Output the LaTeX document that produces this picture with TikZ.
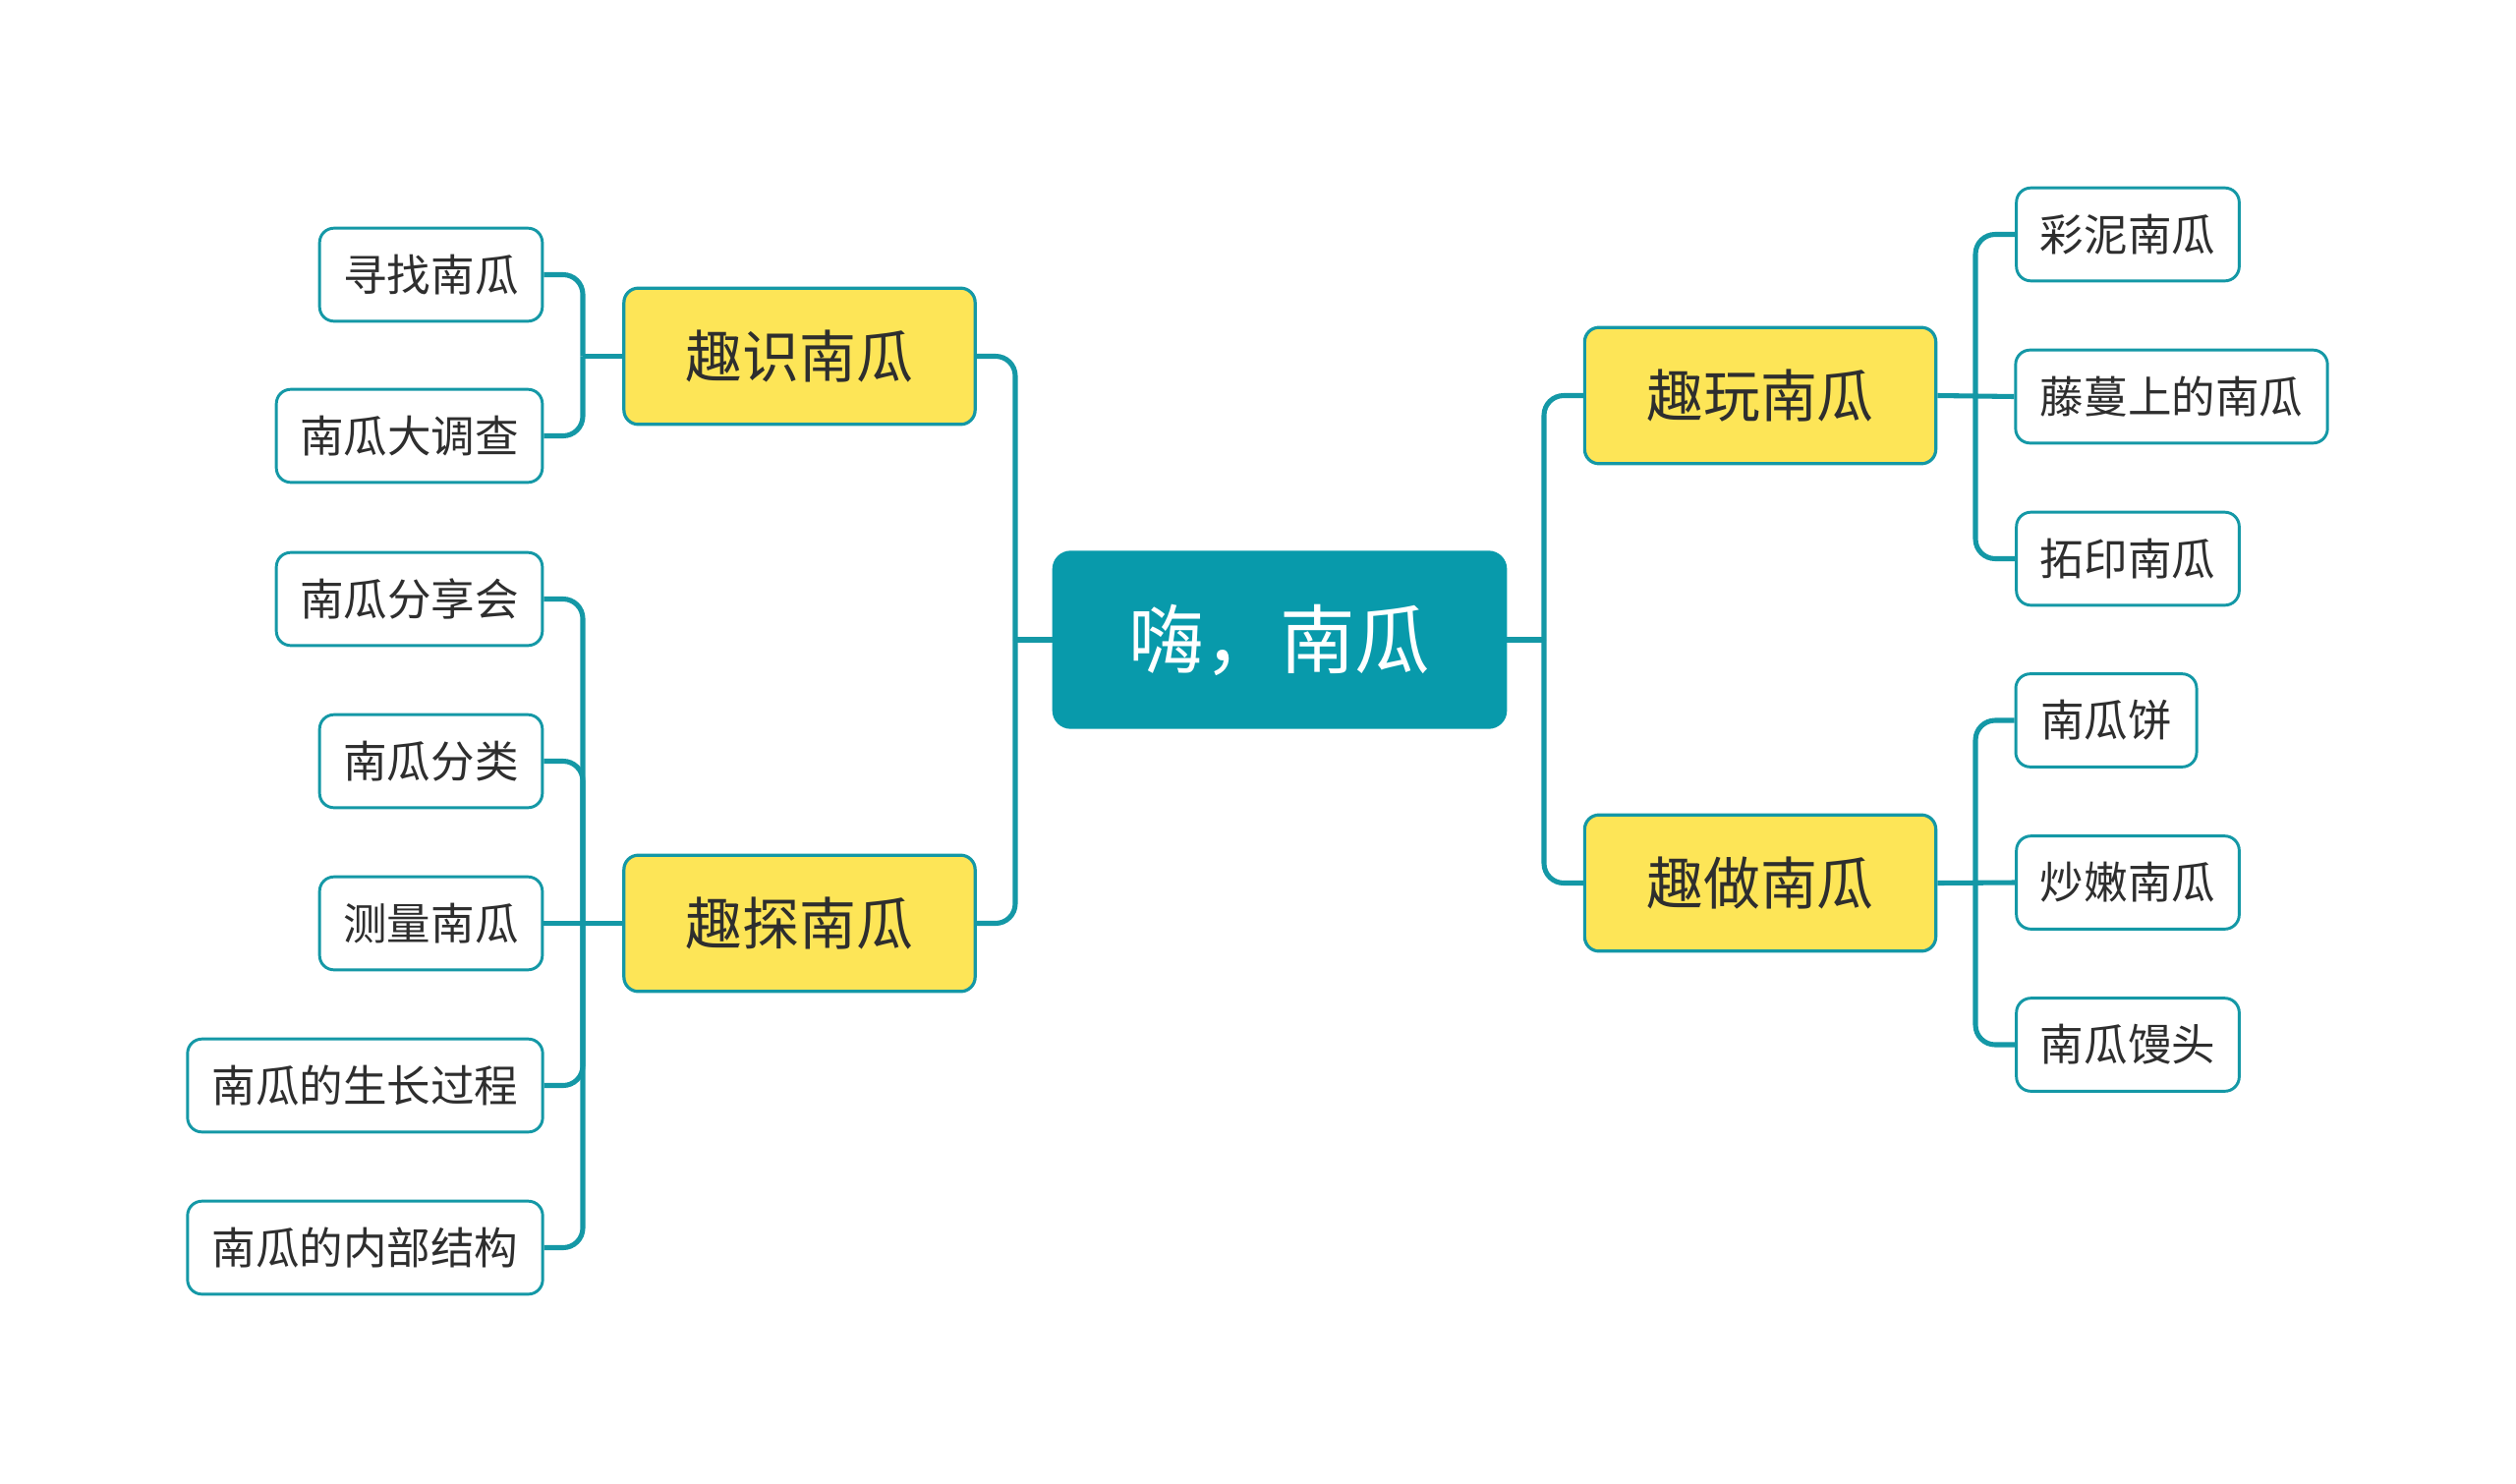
\documentclass[tikz,border=0pt]{standalone}
\usepackage{fontspec}
\newfontfamily\cjk{Noto Sans CJK SC}
\definecolor{teal1}{HTML}{1498A6}
\definecolor{centerfill}{HTML}{089AAB}
\definecolor{yel}{HTML}{FDE557}
\definecolor{txt}{HTML}{2E2E2E}
\begin{document}
\begin{tikzpicture}[x=0.375pt,y=-0.375pt,
  rootbox/.style={draw=centerfill,fill=centerfill,rounded corners=6.5pt,line width=1pt,
    minimum width=172.5pt,minimum height=67pt,font=\cjk\fontsize{28.7}{32}\selectfont,text=white,inner sep=0pt},
  midbox/.style={draw=teal1,fill=yel,rounded corners=5.5pt,line width=1.2pt,
    minimum width=134pt,minimum height=52pt,font=\cjk\fontsize{21.7}{25}\selectfont,text=txt,inner sep=0pt},
  leafbox/.style={draw=teal1,fill=white,rounded corners=5.5pt,line width=1.1pt,
    minimum height=35.5pt,font=\cjk\fontsize{16.7}{20}\selectfont,text=txt,inner sep=0pt},
  conn/.style={draw=teal1,line width=1.9pt,rounded corners=7.5pt},
  straight/.style={draw=teal1,line width=1.9pt}]
\useasboundingbox[fill=white] (0,0) rectangle (2560,1509);

% root
\node[rootbox] (root) at (1302,651) {嗨，南瓜};

% level 1
\node[midbox] (l1) at (813.5,362.5) {趣识南瓜};
\node[midbox] (l2) at (813.5,939.5) {趣探南瓜};
\node[midbox] (r1) at (1791,402.5) {趣玩南瓜};
\node[midbox] (r2) at (1791,898.5) {趣做南瓜};

% left leaves
\node[leafbox,minimum width=85pt] (a1) at (438.5,279.5) {寻找南瓜};
\node[leafbox,minimum width=101.5pt] (a2) at (416.5,443.5) {南瓜大调查};
\node[leafbox,minimum width=101.5pt] (b1) at (416.5,609.5) {南瓜分享会};
\node[leafbox,minimum width=85pt] (b2) at (438.5,774.5) {南瓜分类};
\node[leafbox,minimum width=85pt] (b3) at (438.5,939.5) {测量南瓜};
\node[leafbox,minimum width=135.5pt] (b4) at (371.5,1104.5) {南瓜的生长过程};
\node[leafbox,minimum width=135.5pt] (b5) at (371.5,1269.5) {南瓜的内部结构};

% right leaves
\node[leafbox,minimum width=85pt] (c1) at (2165,238.5) {彩泥南瓜};
\node[leafbox,minimum width=119pt] (c2) at (2209.5,403.5) {藤蔓上的南瓜};
\node[leafbox,minimum width=85pt] (c3) at (2165,568.5) {拓印南瓜};
\node[leafbox,minimum width=69pt] (d1) at (2143,733) {南瓜饼};
\node[leafbox,minimum width=85pt] (d2) at (2165,898) {炒嫩南瓜};
\node[leafbox,minimum width=85pt] (d3) at (2165,1063) {南瓜馒头};

% junction coordinates
\coordinate (jL) at (1033,651);
\coordinate (jR) at (1571,651);
\coordinate (jl1) at (593,362.5);
\coordinate (jl2) at (593,939.5);
\coordinate (jr1) at (2010,402.5);
\coordinate (jr2) at (2010,898.5);

% root connectors
\draw[straight] (root.west) -- (jL);
\draw[conn] (jL) |- (l1.east);
\draw[conn] (jL) |- (l2.east);
\draw[straight] (root.east) -- (jR);
\draw[conn] (jR) |- (r1.west);
\draw[conn] (jR) |- (r2.west);

% left groups
\draw[straight] (l1.west) -- (jl1);
\draw[conn] (jl1) |- (a1.east);
\draw[conn] (jl1) |- (a2.east);

\draw[straight] (l2.west) -- (b3.east);
\draw[conn] (jl2) |- (b1.east);
\draw[conn] (jl2) |- (b2.east);
\draw[conn] (jl2) |- (b4.east);
\draw[conn] (jl2) |- (b5.east);

% right groups
\draw[straight] (r1.east) -- (c2.west);
\draw[conn] (jr1) |- (c1.west);
\draw[conn] (jr1) |- (c3.west);

\draw[straight] (r2.east) -- (d2.west);
\draw[conn] (jr2) |- (d1.west);
\draw[conn] (jr2) |- (d3.west);
\end{tikzpicture}
\end{document}
